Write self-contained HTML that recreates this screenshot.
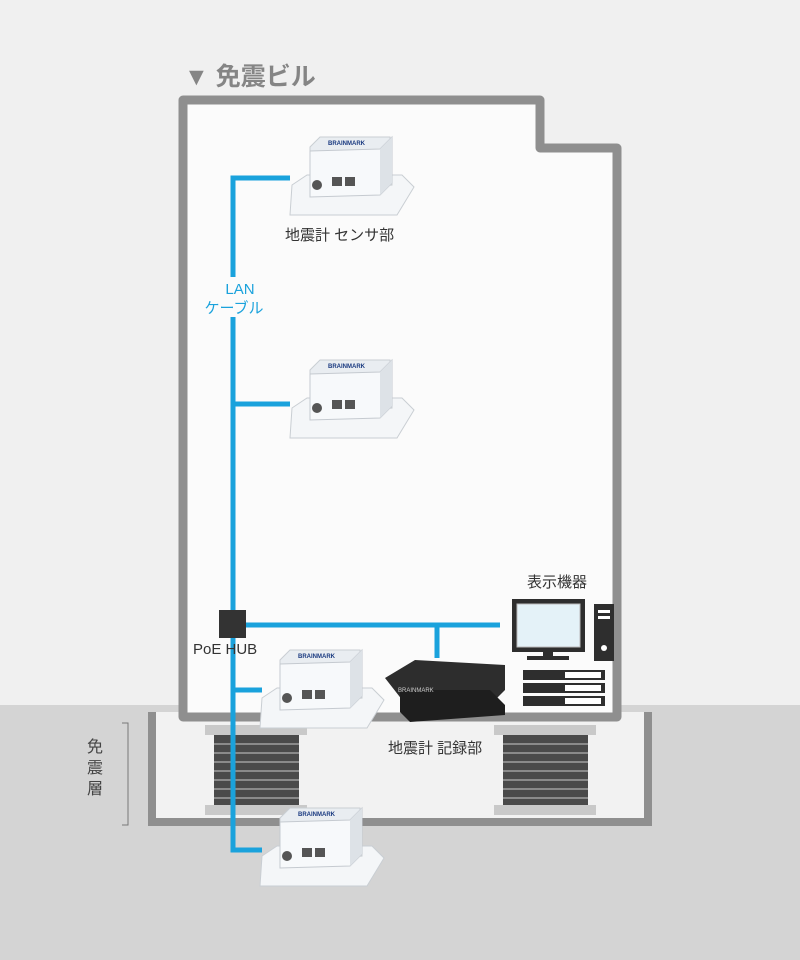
<!DOCTYPE html>
<html><head><meta charset="utf-8"><style>
html,body{margin:0;padding:0;background:#efefef;}
svg{display:block}
text{font-family:"Liberation Sans","Noto Sans CJK JP",sans-serif;}
</style></head><body>
<svg width="800" height="960" viewBox="0 0 800 960" xmlns="http://www.w3.org/2000/svg">
<defs>
<g id="sensor">
  <polygon points="0,48 15,38 110,38 122,50 105,78 -2,78" fill="#f4f6f8" stroke="#c9ced3"/>
  <polygon points="18,10 28,0 98,0 100,48 18,54" fill="#e9edf1" stroke="#c9ced3"/>
  <polygon points="18,14 88,12 100,0 100,46 88,58 18,60" fill="#f7f9fb" stroke="#c5cad0"/>
  <polygon points="88,12 100,0 100,46 88,58" fill="#dde2e7"/>
  <text x="36" y="8" font-size="6" fill="#1a3a80" font-weight="bold">BRAINMARK</text>
  <rect x="40" y="40" width="10" height="9" fill="#555"/>
  <rect x="53" y="40" width="10" height="9" fill="#555"/>
  <circle cx="25" cy="48" r="5" fill="#555"/>
</g>
</defs>
<rect width="800" height="960" fill="#f0f0f0"/>
<rect x="0" y="705" width="800" height="255" fill="#d4d4d4"/>
<path d="M152,712 V822 H648 V712" fill="#f2f2f2" stroke="#8f8f8f" stroke-width="8"/>
<g>
<rect x="205" y="725" width="102" height="10" fill="#c9c9c9"/>
<rect x="205" y="805" width="102" height="10" fill="#c9c9c9"/>
<rect x="214" y="735" width="85" height="70" fill="#4a4a4a"/>
<g stroke="#8a8a8a" stroke-width="2"><line x1="214" y1="744" x2="299" y2="744"/><line x1="214" y1="753" x2="299" y2="753"/><line x1="214" y1="762" x2="299" y2="762"/><line x1="214" y1="771" x2="299" y2="771"/><line x1="214" y1="780" x2="299" y2="780"/><line x1="214" y1="789" x2="299" y2="789"/><line x1="214" y1="798" x2="299" y2="798"/></g>
<rect x="494" y="725" width="102" height="10" fill="#c9c9c9"/>
<rect x="494" y="805" width="102" height="10" fill="#c9c9c9"/>
<rect x="503" y="735" width="85" height="70" fill="#4a4a4a"/>
<g stroke="#8a8a8a" stroke-width="2"><line x1="503" y1="744" x2="588" y2="744"/><line x1="503" y1="753" x2="588" y2="753"/><line x1="503" y1="762" x2="588" y2="762"/><line x1="503" y1="771" x2="588" y2="771"/><line x1="503" y1="780" x2="588" y2="780"/><line x1="503" y1="789" x2="588" y2="789"/><line x1="503" y1="798" x2="588" y2="798"/></g>
</g>
<path d="M183,717 V100 H540 V148 H617 V717 Z" fill="#fbfbfb" stroke="#8f8f8f" stroke-width="9" stroke-linejoin="round"/>
<text x="184" y="85" font-size="25" font-weight="bold" fill="#858585">▼ 免震ビル</text>
<g stroke="#1aa2dc" stroke-width="5" fill="none">
<path d="M290,178 H233 V850 H262"/>
<line x1="233" y1="404" x2="290" y2="404"/>
<line x1="233" y1="690" x2="262" y2="690"/>
<line x1="245" y1="625" x2="500" y2="625"/>
<line x1="437" y1="625" x2="437" y2="658"/>
</g>
<rect x="219" y="610" width="27" height="28" fill="#333"/>
<use href="#sensor" x="292" y="137"/>
<use href="#sensor" x="292" y="360"/>
<use href="#sensor" x="262" y="650"/>
<use href="#sensor" x="262" y="808"/>
<polygon points="385,678 415,660 505,665 505,690 490,705 410,710" fill="#2d2d2d"/>
<polygon points="400,690 490,690 505,705 505,715 410,722 400,712" fill="#1e1e1e"/>
<text x="398" y="692" font-size="6" fill="#ccc">BRAINMARK</text>
<rect x="512" y="599" width="73" height="53" fill="#2e2e2e"/>
<rect x="517" y="604" width="63" height="43" fill="#e4f2f8" stroke="#bbb"/>
<rect x="543" y="652" width="10" height="5" fill="#2e2e2e"/>
<rect x="527" y="656" width="42" height="4" fill="#2e2e2e"/>
<rect x="594" y="604" width="20" height="57" fill="#2e2e2e"/>
<rect x="598" y="610" width="12" height="3" fill="#fff"/><rect x="598" y="616" width="12" height="3" fill="#fff"/>
<circle cx="604" cy="648" r="3" fill="#fff"/>
<rect x="523" y="670" width="82" height="10" fill="#2e2e2e"/><rect x="565" y="672" width="36" height="6" fill="#fff"/>
<rect x="523" y="683" width="82" height="10" fill="#2e2e2e"/><rect x="565" y="685" width="36" height="6" fill="#fff"/>
<rect x="523" y="696" width="82" height="10" fill="#2e2e2e"/><rect x="565" y="698" width="36" height="6" fill="#fff"/>
<g font-size="15" fill="#333">
<text x="285" y="240">地震計 センサ部</text>
<text x="527" y="587">表示機器</text>
<text x="388" y="753">地震計 記録部</text>
<text x="193" y="654">PoE HUB</text>
</g>
<rect x="198" y="277" width="72" height="40" fill="#fbfbfb"/>
<text x="240" y="294" font-size="15" fill="#1aa2dc" text-anchor="middle">LAN</text>
<text x="234" y="313" font-size="15" fill="#1aa2dc" text-anchor="middle">ケーブル</text>
<g font-size="16" fill="#444" text-anchor="middle">
<text x="95" y="752">免</text><text x="95" y="773">震</text><text x="95" y="794">層</text>
</g>
<path d="M122,723 H128 V825 H122" fill="none" stroke="#777" stroke-width="1"/>
</svg>
</body></html>
